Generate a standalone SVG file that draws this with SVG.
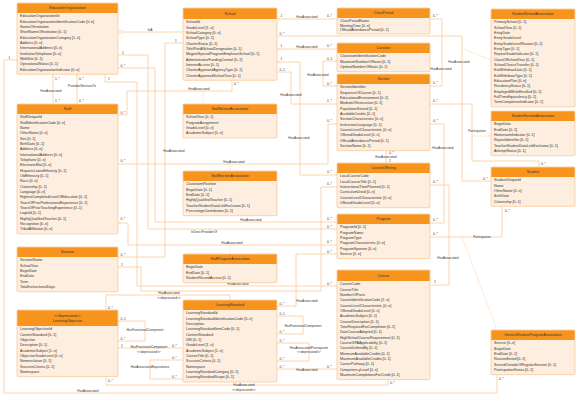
<svg xmlns="http://www.w3.org/2000/svg" width="576" height="399" viewBox="0 0 576 399">
<defs>
<style>
.b{fill:#fdeedf;stroke:#f8c48c;stroke-width:0.7}
.h{fill:#f7941e}
.t{font-family:'Liberation Sans',Arial,sans-serif;font-size:3.6px;fill:#333}
.ht{font-family:'Liberation Sans',Arial,sans-serif;font-size:3.6px;fill:#333;text-anchor:middle}
.c{fill:none;stroke:#f9cb9c;stroke-width:0.8}
.dt{fill:none;stroke:#f9cb9c;stroke-width:0.8;stroke-dasharray:1 1}
.l{font-family:'Liberation Sans',Arial,sans-serif;font-size:3.2px;fill:#333}
.lm{font-family:'Liberation Sans',Arial,sans-serif;font-size:3.2px;fill:#333;text-anchor:middle}
</style>
<marker id="arr" viewBox="0 0 6 6" refX="6" refY="3" markerWidth="3" markerHeight="3" markerUnits="userSpaceOnUse" orient="auto"><path d="M0,0 L6,3 L0,6" fill="none" stroke="#f9cb9c" stroke-width="1"/></marker>
<marker id="tri" viewBox="0 0 8 8" refX="8" refY="4" markerWidth="4" markerHeight="4" markerUnits="userSpaceOnUse" orient="auto"><path d="M0,0 L8,4 L0,8 Z" fill="#fff" stroke="#f9cb9c" stroke-width="1"/></marker>
</defs>
<rect width="576" height="399" fill="#fff"/>

<g id="connectors">
<path class="c" d="M183,32 H118.5" marker-end="url(#tri)"/>
<path class="c" d="M17,60 H4 V393 H497 V374.7"/>
<path class="c" d="M53,104 V74.5" marker-end="url(#arr)"/>
<path class="c" d="M77,104 V74.5" marker-end="url(#arr)"/>
<path class="c" d="M118,115 H127 V91 H232 V80.5"/>
<path class="dt" d="M203,91 V104"/>
<path class="c" d="M118,55 H148 V229 H337"/>
<path class="c" d="M118,68 H155 V222 H337"/>
<path class="c" d="M183,43 H165 V257 H118"/>
<path class="c" d="M118,267 H141 V291 H321 V187 H337"/>
<path class="c" d="M105,74.3 V82 H137 V286 H337"/>
<path class="c" d="M277,306 H296 V254 H337"/>
<path class="c" d="M106,310 V295 H230 V300"/>
<path class="c" d="M118,321 H145 V341 H118"/>
<path class="c" d="M118,348 H183"/>
<path class="c" d="M183,360 H150 V379 H183"/>
<path class="c" d="M277,316 H303 V334 H277"/>
<path class="c" d="M277,343 H309 V361 H277"/>
<path class="c" d="M277,369 H337"/>
<path class="c" d="M106,376.6 V385 H388 V379.6"/>
<path class="c" d="M337,19 H277.5" marker-end="url(#arr)"/>
<path class="c" d="M337,49 H277.5" marker-end="url(#arr)"/>
<path class="c" d="M277,36 H462 V181 H491"/>
<path class="dt" d="M462,48 L491,60"/>
<path class="c" d="M337,175 H300 V62 H277.5" marker-end="url(#arr)"/>
<path class="c" d="M277,72 H291 V104 H337"/>
<path class="c" d="M337,86 H323 V61 H337.5" marker-end="url(#arr)"/>
<path class="c" d="M118,164 H328 V124 H337"/>
<path class="dt" d="M230,164 V171"/>
<path class="c" d="M386,150.6 V163"/>
<path class="c" d="M430,19 H442 V86 H430"/>
<path class="c" d="M430,104 H472 V161 H539 V167"/>
<path class="dt" d="M472,136 H491"/>
<path class="c" d="M430,124 H444 V223 H430"/>
<path class="c" d="M430,185 H449 V285 H430"/>
<path class="c" d="M430,237 H502 V206.3"/>
<path class="dt" d="M462,237 L497,330"/>
<path class="c" d="M337,245 H128 V223 H118.5" marker-end="url(#arr)"/>
<path class="dt" d="M230,245 V254"/>

<text class="lm" x="150" y="31.2">IsA</text>
<text class="l" x="8.5" y="58.5">1</text>
<text class="l" x="499" y="379.5">0..*</text>
<text class="lm" x="88" y="392.2">HasAssociated</text>
<text class="l" x="55" y="80">1..*</text>
<text class="l" x="55" y="101.5">1..*</text>
<text class="lm" x="51" y="92">HasAssociated</text>
<text class="l" x="79" y="80">0..*</text>
<text class="l" x="79" y="101.5">0..*</text>
<text class="lm" x="82" y="87">ProvidesServicesTo</text>
<text class="l" x="120.5" y="113.5">0..*</text>
<text class="l" x="234" y="84.5">0..*</text>
<text class="lm" x="199" y="90.2">HasAssociated</text>
<text class="l" x="122" y="53.5">1</text>
<text class="l" x="327" y="227.5">0..*</text>
<text class="lm" x="204" y="232.5">IsDirectProviderOf</text>
<text class="l" x="120.5" y="66.5">0..*</text>
<text class="l" x="327" y="220.2">0..*</text>
<text class="lm" x="251" y="221.2">HasAssociated</text>
<text class="l" x="175" y="41.5">1</text>
<text class="l" x="120.5" y="255.5">0..*</text>
<text class="lm" x="174" y="152">HasAssociated</text>
<text class="l" x="121" y="265.5">1</text>
<text class="l" x="327" y="185">0..*</text>
<text class="l" x="108" y="79.5">1</text>
<text class="l" x="327" y="284.5">0..*</text>
<text class="lm" x="238" y="285.2">HasAssociated</text>
<text class="l" x="279.5" y="304.5">0..*</text>
<text class="l" x="327" y="252.5">0..*</text>
<text class="lm" x="307" y="301.5">HasAssociated</text>
<text class="l" x="108" y="308.5">0..*</text>
<text class="lm" x="169" y="293.8">HasAssociated</text>
<text class="lm" x="169" y="299">&lt;&lt;deprecated&gt;&gt;</text>
<text class="l" x="120.5" y="319.5">0..1</text>
<text class="l" x="120.5" y="339.5">0..*</text>
<text class="lm" x="145" y="331.2">HasFunctionalComponent</text>
<text class="l" x="121" y="346.5">1</text>
<text class="l" x="172" y="346.5">0..*</text>
<text class="lm" x="149" y="348.2">HasFunctionalComponent</text>
<text class="lm" x="149" y="352.6">&lt;&lt;deprecated&gt;&gt;</text>
<text class="l" x="172" y="358.5">0..*</text>
<text class="l" x="172" y="377.5">0..*</text>
<text class="lm" x="150" y="367.5">HasAssociatedEquivalence</text>
<text class="l" x="279.5" y="314.5">0..1</text>
<text class="l" x="279.5" y="332.5">0..*</text>
<text class="lm" x="303" y="326.5">HasFunctionalComponent</text>
<text class="l" x="279.5" y="341.5">0..*</text>
<text class="l" x="279.5" y="359.5">0..*</text>
<text class="lm" x="309" y="348.5">HasAssociatedPrerequisite</text>
<text class="lm" x="309" y="353">&lt;&lt;deprecated&gt;&gt;</text>
<text class="l" x="279.5" y="367.5">0..*</text>
<text class="l" x="327" y="367.5">0..*</text>
<text class="lm" x="307" y="371.2">HasAssociated</text>
<text class="l" x="108" y="381.5">0..*</text>
<text class="l" x="390" y="383.5">0..*</text>
<text class="lm" x="244" y="385.5">HasAssociated</text>
<text class="lm" x="244" y="390.5">&lt;&lt;deprecated&gt;&gt;</text>
<text class="l" x="280.5" y="16.5">1</text>
<text class="l" x="327" y="16.5">0..*</text>
<text class="lm" x="307" y="18.2">HasAssociated</text>
<text class="l" x="280.5" y="46.5">1</text>
<text class="l" x="327" y="46.5">0..*</text>
<text class="lm" x="307" y="48.2">HasAssociated</text>
<text class="l" x="279.5" y="34.5">0..*</text>
<text class="l" x="483" y="179.5">0..*</text>
<text class="lm" x="459" y="63">HasAssociated</text>
<text class="l" x="280.5" y="60">1</text>
<text class="l" x="327" y="173.2">0..*</text>
<text class="lm" x="299" y="139">HasAssociated</text>
<text class="l" x="279.5" y="70.5">0..1</text>
<text class="l" x="327" y="101.5">1..*</text>
<text class="lm" x="291" y="96">HasAssociated</text>
<text class="l" x="327" y="59.5">0..1</text>
<text class="l" x="327" y="84.5">0..*</text>
<text class="lm" x="318" y="76">HasAssociated</text>
<text class="l" x="120.5" y="161.5">0..*</text>
<text class="l" x="327" y="122">0..*</text>
<text class="lm" x="234" y="162.8">HasAssociated</text>
<text class="l" x="389" y="154">0..*</text>
<text class="lm" x="386" y="158.2">HasAssociated</text>
<text class="l" x="389" y="162">1</text>
<text class="l" x="433" y="16.5">0..*</text>
<text class="l" x="433" y="84">0..*</text>
<text class="lm" x="441" y="70">HasAssociated</text>
<text class="l" x="433" y="101.5">0..*</text>
<text class="l" x="541" y="164.5">0..*</text>
<text class="lm" x="477" y="132">Participation</text>
<text class="l" x="433" y="121.5">0..*</text>
<text class="l" x="433" y="220.5">0..*</text>
<text class="lm" x="443" y="149">HasAssociated</text>
<text class="l" x="433" y="182.5">0..*</text>
<text class="l" x="434" y="282.5">1</text>
<text class="lm" x="448" y="259">HasAssociated</text>
<text class="l" x="433" y="234.5">0..*</text>
<text class="l" x="505" y="211.5">0..*</text>
<text class="lm" x="482" y="238.3">Participation</text>
<text class="l" x="120.5" y="220">0..*</text>
<text class="l" x="327" y="243.2">0..*</text>
<text class="lm" x="232" y="243.5">HasAssociated</text>
</g>

<g id="EducationOrganization">
<rect class="b" x="17" y="3" width="101" height="71.3" rx="1"/>
<rect class="h" x="17.35" y="3.35" width="100.3" height="9.65"/>
<text class="ht" x="67.5" y="9.3">EducationOrganization</text>
<text class="t" x="20" y="17.4"><tspan x="20">EducationOrganizationId</tspan><tspan x="20" dy="5.33">EducationOrganizationIdentificationCode [0..n]</tspan><tspan x="20" dy="5.33">NameOfInstitution</tspan><tspan x="20" dy="5.33">ShortNameOfInstitution [0..1]</tspan><tspan x="20" dy="5.33">EducationOrganizationCategory [1..n]</tspan><tspan x="20" dy="5.33">Address [0..n]</tspan><tspan x="20" dy="5.33">InternationalAddress [0..n]</tspan><tspan x="20" dy="5.33">InstitutionTelephone [0..n]</tspan><tspan x="20" dy="5.33">WebSite [0..1]</tspan><tspan x="20" dy="5.33">OperationalStatus [0..1]</tspan><tspan x="20" dy="5.33">EducationOrganizationIndicator [0..n]</tspan></text>
</g>

<g id="Staff">
<rect class="b" x="17" y="104" width="101" height="129.9" rx="1"/>
<rect class="h" x="17.35" y="104.35" width="100.3" height="9.65"/>
<text class="ht" x="67.5" y="110.3">Staff</text>
<text class="t" x="20" y="118.4"><tspan x="20">StaffUniqueId</tspan><tspan x="20" dy="5.33">StaffIdentificationCode [0..n]</tspan><tspan x="20" dy="5.33">Name</tspan><tspan x="20" dy="5.33">OtherName [0..n]</tspan><tspan x="20" dy="5.33">Sex [0..1]</tspan><tspan x="20" dy="5.33">BirthDate [0..1]</tspan><tspan x="20" dy="5.33">Address [0..n]</tspan><tspan x="20" dy="5.33">InternationalAddress [0..n]</tspan><tspan x="20" dy="5.33">Telephone [0..n]</tspan><tspan x="20" dy="5.33">ElectronicMail [0..n]</tspan><tspan x="20" dy="5.33">HispanicLatinoEthnicity [0..1]</tspan><tspan x="20" dy="5.33">OldEthnicity [0..1]</tspan><tspan x="20" dy="5.33">Race [0..n]</tspan><tspan x="20" dy="5.33">Citizenship [0..1]</tspan><tspan x="20" dy="5.33">Language [0..n]</tspan><tspan x="20" dy="5.33">HighestCompletedLevelOfEducation [0..1]</tspan><tspan x="20" dy="5.33">YearsOfPriorProfessionalExperience [0..1]</tspan><tspan x="20" dy="5.33">YearsOfPriorTeachingExperience [0..1]</tspan><tspan x="20" dy="5.33">LoginId [0..1]</tspan><tspan x="20" dy="5.33">HighlyQualifiedTeacher [0..1]</tspan><tspan x="20" dy="5.33">Recognition [0..n]</tspan><tspan x="20" dy="5.33">TribalAffiliation [0..n]</tspan></text>
</g>

<g id="Session">
<rect class="b" x="17" y="247" width="101" height="44.7" rx="1"/>
<rect class="h" x="17.35" y="247.35" width="100.3" height="9.65"/>
<text class="ht" x="67.5" y="253.3">Session</text>
<text class="t" x="20" y="261.4"><tspan x="20">SessionName</tspan><tspan x="20" dy="5.33">SchoolYear</tspan><tspan x="20" dy="5.33">BeginDate</tspan><tspan x="20" dy="5.33">EndDate</tspan><tspan x="20" dy="5.33">Term</tspan><tspan x="20" dy="5.33">TotalInstructionalDays</tspan></text>
</g>

<g id="LearningObjective">
<rect class="b" x="17" y="310" width="101" height="66.6" rx="1"/>
<rect class="h" x="17.35" y="310.35" width="100.3" height="15.65"/>
<text class="ht" x="67.5" y="316.8">&lt;&lt;deprecated&gt;&gt;</text>
<text class="ht" x="67.5" y="321.5">LearningObjective</text>
<text class="t" x="20" y="330.4"><tspan x="20">LearningObjectiveId</tspan><tspan x="20" dy="5.33">ContentStandard [0..1]</tspan><tspan x="20" dy="5.33">Objective</tspan><tspan x="20" dy="5.33">Description [0..1]</tspan><tspan x="20" dy="5.33">AcademicSubject [1..n]</tspan><tspan x="20" dy="5.33">ObjectiveGradeLevel [0..n]</tspan><tspan x="20" dy="5.33">Nomenclature [0..1]</tspan><tspan x="20" dy="5.33">SuccessCriteria [0..1]</tspan><tspan x="20" dy="5.33">Namespace</tspan></text>
</g>

<g id="School">
<rect class="b" x="183" y="8" width="94" height="72.3" rx="1"/>
<rect class="h" x="183.35" y="8.35" width="93.3" height="10.65"/>
<text class="ht" x="230" y="14.8">School</text>
<text class="t" x="186" y="23.4"><tspan x="186">SchoolId</tspan><tspan x="186" dy="5.33">GradeLevel [1..n]</tspan><tspan x="186" dy="5.33">SchoolCategory [0..n]</tspan><tspan x="186" dy="5.33">SchoolType [0..1]</tspan><tspan x="186" dy="5.33">CharterStatus [0..1]</tspan><tspan x="186" dy="5.33">TitleIPartASchoolDesignation [0..1]</tspan><tspan x="186" dy="5.33">MagnetSpecialProgramEmphasisSchool [0..1]</tspan><tspan x="186" dy="5.33">AdministrativeFundingControl [0..1]</tspan><tspan x="186" dy="5.33">InternetAccess [0..1]</tspan><tspan x="186" dy="5.33">CharterApprovedAgencyType [0..1]</tspan><tspan x="186" dy="5.33">CharterApprovedSchoolYear [0..1]</tspan></text>
</g>

<g id="StaffSchoolAssociation">
<rect class="b" x="183" y="104" width="94" height="34" rx="1"/>
<rect class="h" x="183.35" y="104.35" width="93.3" height="9.65"/>
<text class="ht" x="230" y="110.3">StaffSchoolAssociation</text>
<text class="t" x="186" y="118.4"><tspan x="186">SchoolYear [0..1]</tspan><tspan x="186" dy="5.33">ProgramAssignment</tspan><tspan x="186" dy="5.33">GradeLevel [0..n]</tspan><tspan x="186" dy="5.33">AcademicSubject [0..n]</tspan></text>
</g>

<g id="StaffSectionAssociation">
<rect class="b" x="183" y="171" width="94" height="44.7" rx="1"/>
<rect class="h" x="183.35" y="171.35" width="93.3" height="9.65"/>
<text class="ht" x="230" y="177.3">StaffSectionAssociation</text>
<text class="t" x="186" y="185.4"><tspan x="186">ClassroomPosition</tspan><tspan x="186" dy="5.33">BeginDate [0..1]</tspan><tspan x="186" dy="5.33">EndDate [0..1]</tspan><tspan x="186" dy="5.33">HighlyQualifiedTeacher [0..1]</tspan><tspan x="186" dy="5.33">TeacherStudentDataLinkExclusion [0..1]</tspan><tspan x="186" dy="5.33">PercentageContribution [0..1]</tspan></text>
</g>

<g id="StaffProgramAssociation">
<rect class="b" x="183" y="254" width="94" height="28.7" rx="1"/>
<rect class="h" x="183.35" y="254.35" width="93.3" height="9.65"/>
<text class="ht" x="230" y="260.3">StaffProgramAssociation</text>
<text class="t" x="186" y="268.4"><tspan x="186">BeginDate</tspan><tspan x="186" dy="5.33">EndDate [0..1]</tspan><tspan x="186" dy="5.33">StudentRecordAccess [0..1]</tspan></text>
</g>

<g id="LearningStandard">
<rect class="b" x="183" y="300" width="94" height="82" rx="1"/>
<rect class="h" x="183.35" y="300.35" width="93.3" height="9.65"/>
<text class="ht" x="230" y="306.3">LearningStandard</text>
<text class="t" x="186" y="314.4"><tspan x="186">LearningStandardId</tspan><tspan x="186" dy="5.33">LearningStandardIdentificationCode [0..n]</tspan><tspan x="186" dy="5.33">Description</tspan><tspan x="186" dy="5.33">LearningStandardItemCode [0..1]</tspan><tspan x="186" dy="5.33">ContentStandard</tspan><tspan x="186" dy="5.33">URI [0..1]</tspan><tspan x="186" dy="5.33">GradeLevel [1..n]</tspan><tspan x="186" dy="5.33">AcademicSubject [1..n]</tspan><tspan x="186" dy="5.33">CourseTitle [0..1]</tspan><tspan x="186" dy="5.33">SuccessCriteria [0..1]</tspan><tspan x="186" dy="5.33">Namespace</tspan><tspan x="186" dy="5.33">LearningStandardCategory [0..1]</tspan><tspan x="186" dy="5.33">LearningStandardScope [0..1]</tspan></text>
</g>

<g id="ClassPeriod">
<rect class="b" x="337" y="8" width="93" height="26" rx="1"/>
<rect class="h" x="337.35" y="8.35" width="92.3" height="9.65"/>
<text class="ht" x="383.5" y="14.3">ClassPeriod</text>
<text class="t" x="340" y="21.8"><tspan x="340">ClassPeriodName</tspan><tspan x="340" dy="4.8">MeetingTime [0..n]</tspan><tspan x="340" dy="4.8">OfficialAttendancePeriod [0..1]</tspan></text>
</g>

<g id="Location">
<rect class="b" x="337" y="43" width="93" height="28.7" rx="1"/>
<rect class="h" x="337.35" y="43.35" width="92.3" height="9.65"/>
<text class="ht" x="383.5" y="49.3">Location</text>
<text class="t" x="340" y="57.4"><tspan x="340">ClassroomIdentificationCode</tspan><tspan x="340" dy="5.33">MaximumNumberOfSeats [0..1]</tspan><tspan x="340" dy="5.33">OptimalNumberOfSeats [0..1]</tspan></text>
</g>

<g id="Section">
<rect class="b" x="337" y="74" width="93" height="76.6" rx="1"/>
<rect class="h" x="337.35" y="74.35" width="92.3" height="9.65"/>
<text class="ht" x="383.5" y="80.3">Section</text>
<text class="t" x="340" y="88.4"><tspan x="340">SectionIdentifier</tspan><tspan x="340" dy="5.33">SequenceOfCourse [0..1]</tspan><tspan x="340" dy="5.33">EducationalEnvironment [0..1]</tspan><tspan x="340" dy="5.33">MediumOfInstruction [0..1]</tspan><tspan x="340" dy="5.33">PopulationServed [0..1]</tspan><tspan x="340" dy="5.33">AvailableCredits [0..1]</tspan><tspan x="340" dy="5.33">SectionCharacteristic [0..n]</tspan><tspan x="340" dy="5.33">InstructionLanguage [0..1]</tspan><tspan x="340" dy="5.33">CourseLevelCharacteristic [0..n]</tspan><tspan x="340" dy="5.33">OfferedGradeLevel [0..n]</tspan><tspan x="340" dy="5.33">OfficialAttendancePeriod [0..1]</tspan><tspan x="340" dy="5.33">SectionName [0..1]</tspan></text>
</g>

<g id="CourseOffering">
<rect class="b" x="337" y="163" width="93" height="44.7" rx="1"/>
<rect class="h" x="337.35" y="163.35" width="92.3" height="9.65"/>
<text class="ht" x="383.5" y="169.3">CourseOffering</text>
<text class="t" x="340" y="177.4"><tspan x="340">LocalCourseCode</tspan><tspan x="340" dy="5.33">LocalCourseTitle [0..1]</tspan><tspan x="340" dy="5.33">InstructionalTimePlanned [0..1]</tspan><tspan x="340" dy="5.33">CurriculumUsed [0..n]</tspan><tspan x="340" dy="5.33">CourseLevelCharacteristic [0..n]</tspan><tspan x="340" dy="5.33">OfferedGradeLevel [0..n]</tspan></text>
</g>

<g id="Program">
<rect class="b" x="337" y="214" width="93" height="44.7" rx="1"/>
<rect class="h" x="337.35" y="214.35" width="92.3" height="9.65"/>
<text class="ht" x="383.5" y="220.3">Program</text>
<text class="t" x="340" y="228.4"><tspan x="340">ProgramId [0..1]</tspan><tspan x="340" dy="5.33">ProgramName</tspan><tspan x="340" dy="5.33">ProgramType</tspan><tspan x="340" dy="5.33">ProgramCharacteristic [0..n]</tspan><tspan x="340" dy="5.33">ProgramSponsor [0..n]</tspan><tspan x="340" dy="5.33">Service [0..n]</tspan></text>
</g>

<g id="Course">
<rect class="b" x="337" y="270" width="93" height="109.6" rx="1"/>
<rect class="h" x="337.35" y="270.35" width="92.3" height="10.65"/>
<text class="ht" x="383.5" y="276.8">Course</text>
<text class="t" x="340" y="285.4"><tspan x="340">CourseCode</tspan><tspan x="340" dy="5.33">CourseTitle</tspan><tspan x="340" dy="5.33">NumberOfParts</tspan><tspan x="340" dy="5.33">CourseIdentificationCode [1..n]</tspan><tspan x="340" dy="5.33">CourseLevelCharacteristic [0..n]</tspan><tspan x="340" dy="5.33">OfferedGradeLevel [0..n]</tspan><tspan x="340" dy="5.33">AcademicSubject [0..1]</tspan><tspan x="340" dy="5.33">CourseDescription [0..1]</tspan><tspan x="340" dy="5.33">TimeRequiredForCompletion [0..1]</tspan><tspan x="340" dy="5.33">DateCourseAdopted [0..1]</tspan><tspan x="340" dy="5.33">HighSchoolCourseRequirement [0..1]</tspan><tspan x="340" dy="5.33">CourseGPAApplicability [0..1]</tspan><tspan x="340" dy="5.33">CourseDefinedBy [0..1]</tspan><tspan x="340" dy="5.33">MinimumAvailableCredits [0..1]</tspan><tspan x="340" dy="5.33">MaximumAvailableCredits [0..1]</tspan><tspan x="340" dy="5.33">CareerPathway [0..1]</tspan><tspan x="340" dy="5.33">CompetencyLevel [0..n]</tspan><tspan x="340" dy="5.33">MaximumCompletionsForCredit [0..1]</tspan></text>
</g>

<g id="StudentSchoolAssociation">
<rect class="b" x="491" y="9" width="84" height="98" rx="1"/>
<rect class="h" x="491.35" y="9.35" width="83.3" height="9.65"/>
<text class="ht" x="533" y="15.3">StudentSchoolAssociation</text>
<text class="t" x="494" y="23.4"><tspan x="494">PrimarySchool [0..1]</tspan><tspan x="494" dy="5.33">SchoolYear [0..1]</tspan><tspan x="494" dy="5.33">EntryDate</tspan><tspan x="494" dy="5.33">EntryGradeLevel</tspan><tspan x="494" dy="5.33">EntryGradeLevelReason [0..1]</tspan><tspan x="494" dy="5.33">EntryType [0..1]</tspan><tspan x="494" dy="5.33">RepeatGradeIndicator [0..1]</tspan><tspan x="494" dy="5.33">ClassOfSchoolYear [0..1]</tspan><tspan x="494" dy="5.33">SchoolChoiceTransfer [0..1]</tspan><tspan x="494" dy="5.33">ExitWithdrawDate [0..1]</tspan><tspan x="494" dy="5.33">ExitWithdrawType [0..1]</tspan><tspan x="494" dy="5.33">EducationPlan [0..n]</tspan><tspan x="494" dy="5.33">ResidencyStatus [0..1]</tspan><tspan x="494" dy="5.33">EmployedWhileEnrolled [0..1]</tspan><tspan x="494" dy="5.33">FullTimeEquivalency [0..1]</tspan><tspan x="494" dy="5.33">TermCompletionIndicator [0..1]</tspan></text>
</g>

<g id="StudentSectionAssociation">
<rect class="b" x="491" y="111" width="84" height="44.7" rx="1"/>
<rect class="h" x="491.35" y="111.35" width="83.3" height="9.65"/>
<text class="ht" x="533" y="117.3">StudentSectionAssociation</text>
<text class="t" x="494" y="125.4"><tspan x="494">BeginDate</tspan><tspan x="494" dy="5.33">EndDate [0..1]</tspan><tspan x="494" dy="5.33">HomeroomIndicator [0..1]</tspan><tspan x="494" dy="5.33">RepeatIdentifier [0..1]</tspan><tspan x="494" dy="5.33">TeacherStudentDataLinkExclusion [0..1]</tspan><tspan x="494" dy="5.33">AttemptStatus [0..1]</tspan></text>
</g>

<g id="Student">
<rect class="b" x="491" y="167" width="84" height="39.3" rx="1"/>
<rect class="h" x="491.35" y="167.35" width="83.3" height="9.65"/>
<text class="ht" x="533" y="173.3">Student</text>
<text class="t" x="494" y="181.4"><tspan x="494">StudentUniqueId</tspan><tspan x="494" dy="5.33">Name</tspan><tspan x="494" dy="5.33">OtherName [0..n]</tspan><tspan x="494" dy="5.33">BirthDate</tspan><tspan x="494" dy="5.33">Citizenship [0..1]</tspan></text>
</g>

<g id="GeneralStudentProgramAssociation">
<rect class="b" x="491" y="330" width="84" height="44.7" rx="1"/>
<rect class="h" x="491.35" y="330.35" width="83.3" height="9.65"/>
<text class="ht" x="533" y="336.3">GeneralStudentProgramAssociation</text>
<text class="t" x="494" y="344.4"><tspan x="494">Service [0..n]</tspan><tspan x="494" dy="5.33">BeginDate</tspan><tspan x="494" dy="5.33">EndDate [0..1]</tspan><tspan x="494" dy="5.33">ReasonExited [0..1]</tspan><tspan x="494" dy="5.33">ServedOutsideOfRegularSession [0..1]</tspan><tspan x="494" dy="5.33">ParticipationStatus [0..1]</tspan></text>
</g>
</svg>
